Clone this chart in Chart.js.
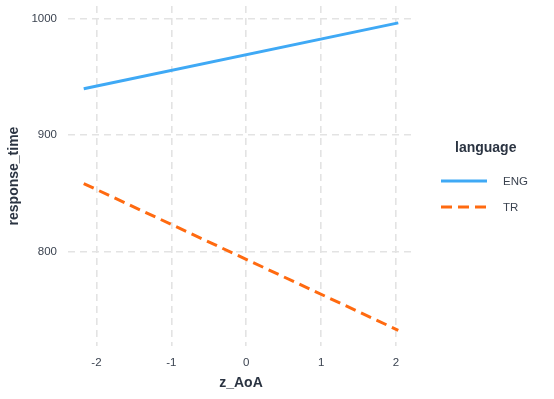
<!DOCTYPE html>
<html>
<head>
<meta charset="utf-8">
<script src="https://cdn.jsdelivr.net/npm/chart.js@4.4.0/dist/chart.umd.min.js"></script>
<style>
  html, body { margin: 0; padding: 0; background: #fff; }
  #wrap { position: relative; width: 554px; height: 399px; font-family: "Liberation Sans", Arial, sans-serif; }
  #legend { position: absolute; left: 441px; top: 139px; color: #2b3442; }
  #legend .title { font-weight: bold; font-size: 14px; margin-left: 14px; margin-bottom: 13px; }
  #legend .item { display: flex; align-items: center; height: 26px; font-size: 11.5px; color: #3b4350; }
  #legend .key { width: 46px; margin-right: 16px; }
</style>
</head>
<body>
<div id="wrap">
  <canvas id="chart" width="554" height="399"></canvas>
  <div id="legend"></div>
</div>
<script>
const xValues = [-2.17, 2.03];
const engValues = [940, 996.5];
const trValues = [858.5, 732.5];
const xTicks = [-2, -1, 0, 1, 2];
const yTicks = [800, 900, 1000];

const series = [
  { label: "ENG", data: engValues, color: "#3fa9f5", dash: [] },
  { label: "TR", data: trValues, color: "#ff6a10", dash: [11, 6] }
];

const tickColor = "#3b4350";
const titleColor = "#2b3442";
const gridColor = "#e3e3e3";

new Chart(document.getElementById("chart"), {
  type: "line",
  data: {
    datasets: series.map((s) => ({
      label: s.label,
      data: s.data.map((y, i) => ({ x: xValues[i], y })),
      borderColor: s.color,
      borderDash: s.dash,
      borderWidth: 3,
      pointRadius: 0,
      fill: false
    }))
  },
  options: {
    responsive: false,
    animation: false,
    layout: { padding: { left: 0, right: 140, top: 6, bottom: 0 } },
    plugins: { legend: { display: false }, tooltip: { enabled: false } },
    scales: {
      x: {
        type: "linear",
        min: -2.38,
        max: 2.24,
        afterBuildTicks: (scale) => { scale.ticks = xTicks.map((v) => ({ value: v })); },
        afterFit: (scale) => { scale.height = 53; scale.paddingLeft = 0; scale.paddingRight = 0; },
        border: { display: false, dash: [7, 5] },
        grid: { color: gridColor, lineWidth: 1.6, drawTicks: false },
        ticks: { color: tickColor, font: { family: "Liberation Sans", size: 11.5 }, padding: 10, maxRotation: 0, callback: (v) => String(v) },
        title: { display: true, text: "z_AoA", color: titleColor, font: { family: "Liberation Sans", size: 14, weight: "bold" }, padding: { top: 0, bottom: 7 } }
      },
      y: {
        type: "linear",
        min: 719,
        max: 1011,
        afterBuildTicks: (scale) => { scale.ticks = yTicks.map((v) => ({ value: v })); },
        afterFit: (scale) => { scale.width = 68; scale.paddingTop = 0; scale.paddingBottom = 0; },
        border: { display: false, dash: [7, 5] },
        grid: { color: gridColor, lineWidth: 1.6, drawTicks: false },
        ticks: { color: tickColor, font: { family: "Liberation Sans", size: 11.5 }, padding: 11, callback: (v) => String(v) },
        title: { display: true, text: "response_time", color: titleColor, font: { family: "Liberation Sans", size: 14, weight: "bold" }, padding: { top: 6, bottom: 0 } }
      }
    }
  }
});

const legend = document.getElementById("legend");
legend.innerHTML = '<div class="title">language</div>' + series.map((s) => {
  return `<div class="item"><svg class="key" width="46" height="4"><line x1="0" y1="2" x2="46" y2="2" stroke="${s.color}" stroke-width="3" stroke-dasharray="${s.dash.join(",") || "none"}"/></svg>${s.label}</div>`;
}).join("");
</script>
</body>
</html>
